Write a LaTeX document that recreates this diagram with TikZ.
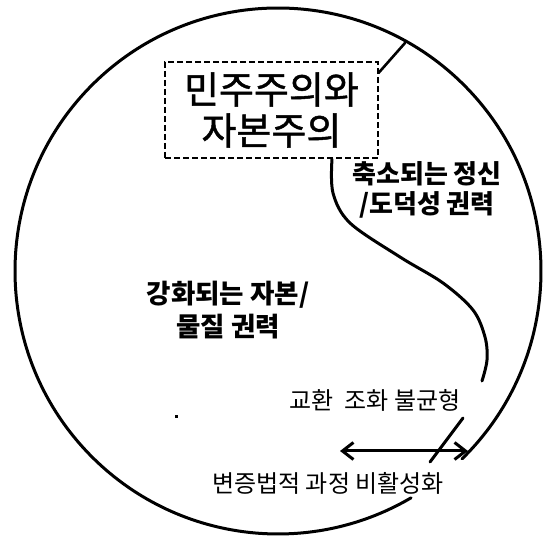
\documentclass[tikz,border=0pt]{standalone}
\usepackage{fontspec}
\newfontfamily\kr{Noto Sans CJK KR}
\newfontfamily\krbold{Noto Sans CJK KR}[FakeBold=1.2]
\usetikzlibrary{arrows.meta}
\tikzset{
  rim/.style={line width=3pt, line cap=round},
  thinline/.style={line width=2.6pt, line cap=round},
  titlebox/.style={draw, dashed, line width=2.4pt, dash pattern=on 6pt off 3pt, minimum width=213pt, minimum height=96pt, align=center, inner sep=0pt, font=\krbold\fontsize{38}{41}\selectfont},
  boldlabel/.style={align=center, inner sep=0pt, font=\kr\bfseries\fontsize{26}{30}\selectfont},
  plainlabel/.style={align=center, inner sep=0pt, font=\kr\fontsize{24}{26}\selectfont},
  twoway/.style={line width=3pt, {Straight Barb[length=11pt,width=17pt,line width=3pt]}-{Straight Barb[length=11pt,width=17pt,line width=3pt]}}
}
\begin{document}
\begin{tikzpicture}[x=1pt,y=1pt]
\useasboundingbox (0,0) rectangle (544,538);
\fill[white] (0,0) rectangle (544,538);
% outer circle, open where the bottom label sits
\coordinate (C) at (278,267);
\draw[rim] (C) ++(-45.6:263) arc[start angle=-45.6, end angle=300.4, radius=263];
% title box
\node[titlebox] (title) at (271.5,428) {민주주의와\\자본주의};
\coordinate (rimtop) at (405,495);
\coordinate (boxcorner) at (378.5,465);
\draw[thinline] (boxcorner) -- (rimtop);
% S-shaped divider
\draw[rim] plot[smooth, tension=0.55] coordinates {(332,379) (333,345) (350,315) (400,281) (443,255) (473,228) (485,201) (487,178) (482,157)};
\draw[rim] (463,120) -- (430,76);
% labels
\node[boldlabel] (spirit) at (427,348) {축소되는 정신\\/도덕성 권력};
\node[boldlabel, font=\kr\bfseries\fontsize{26.5}{33}\selectfont] (capital) at (228,228) {강화되는 자본/\\물질 권력};
\node[plainlabel] (exchange) at (375,138) {교환~~조화 불균형};
\node[plainlabel] (dialectic) at (328,55) {변증법적 과정 비활성화};
% double arrow
\coordinate (arrL) at (340,87);
\coordinate (arrR) at (468,87);
\draw[twoway] (arrL) -- (arrR);
% small dot
\fill (174.5,119.5) rectangle (177.5,122.5);
\end{tikzpicture}
\end{document}
